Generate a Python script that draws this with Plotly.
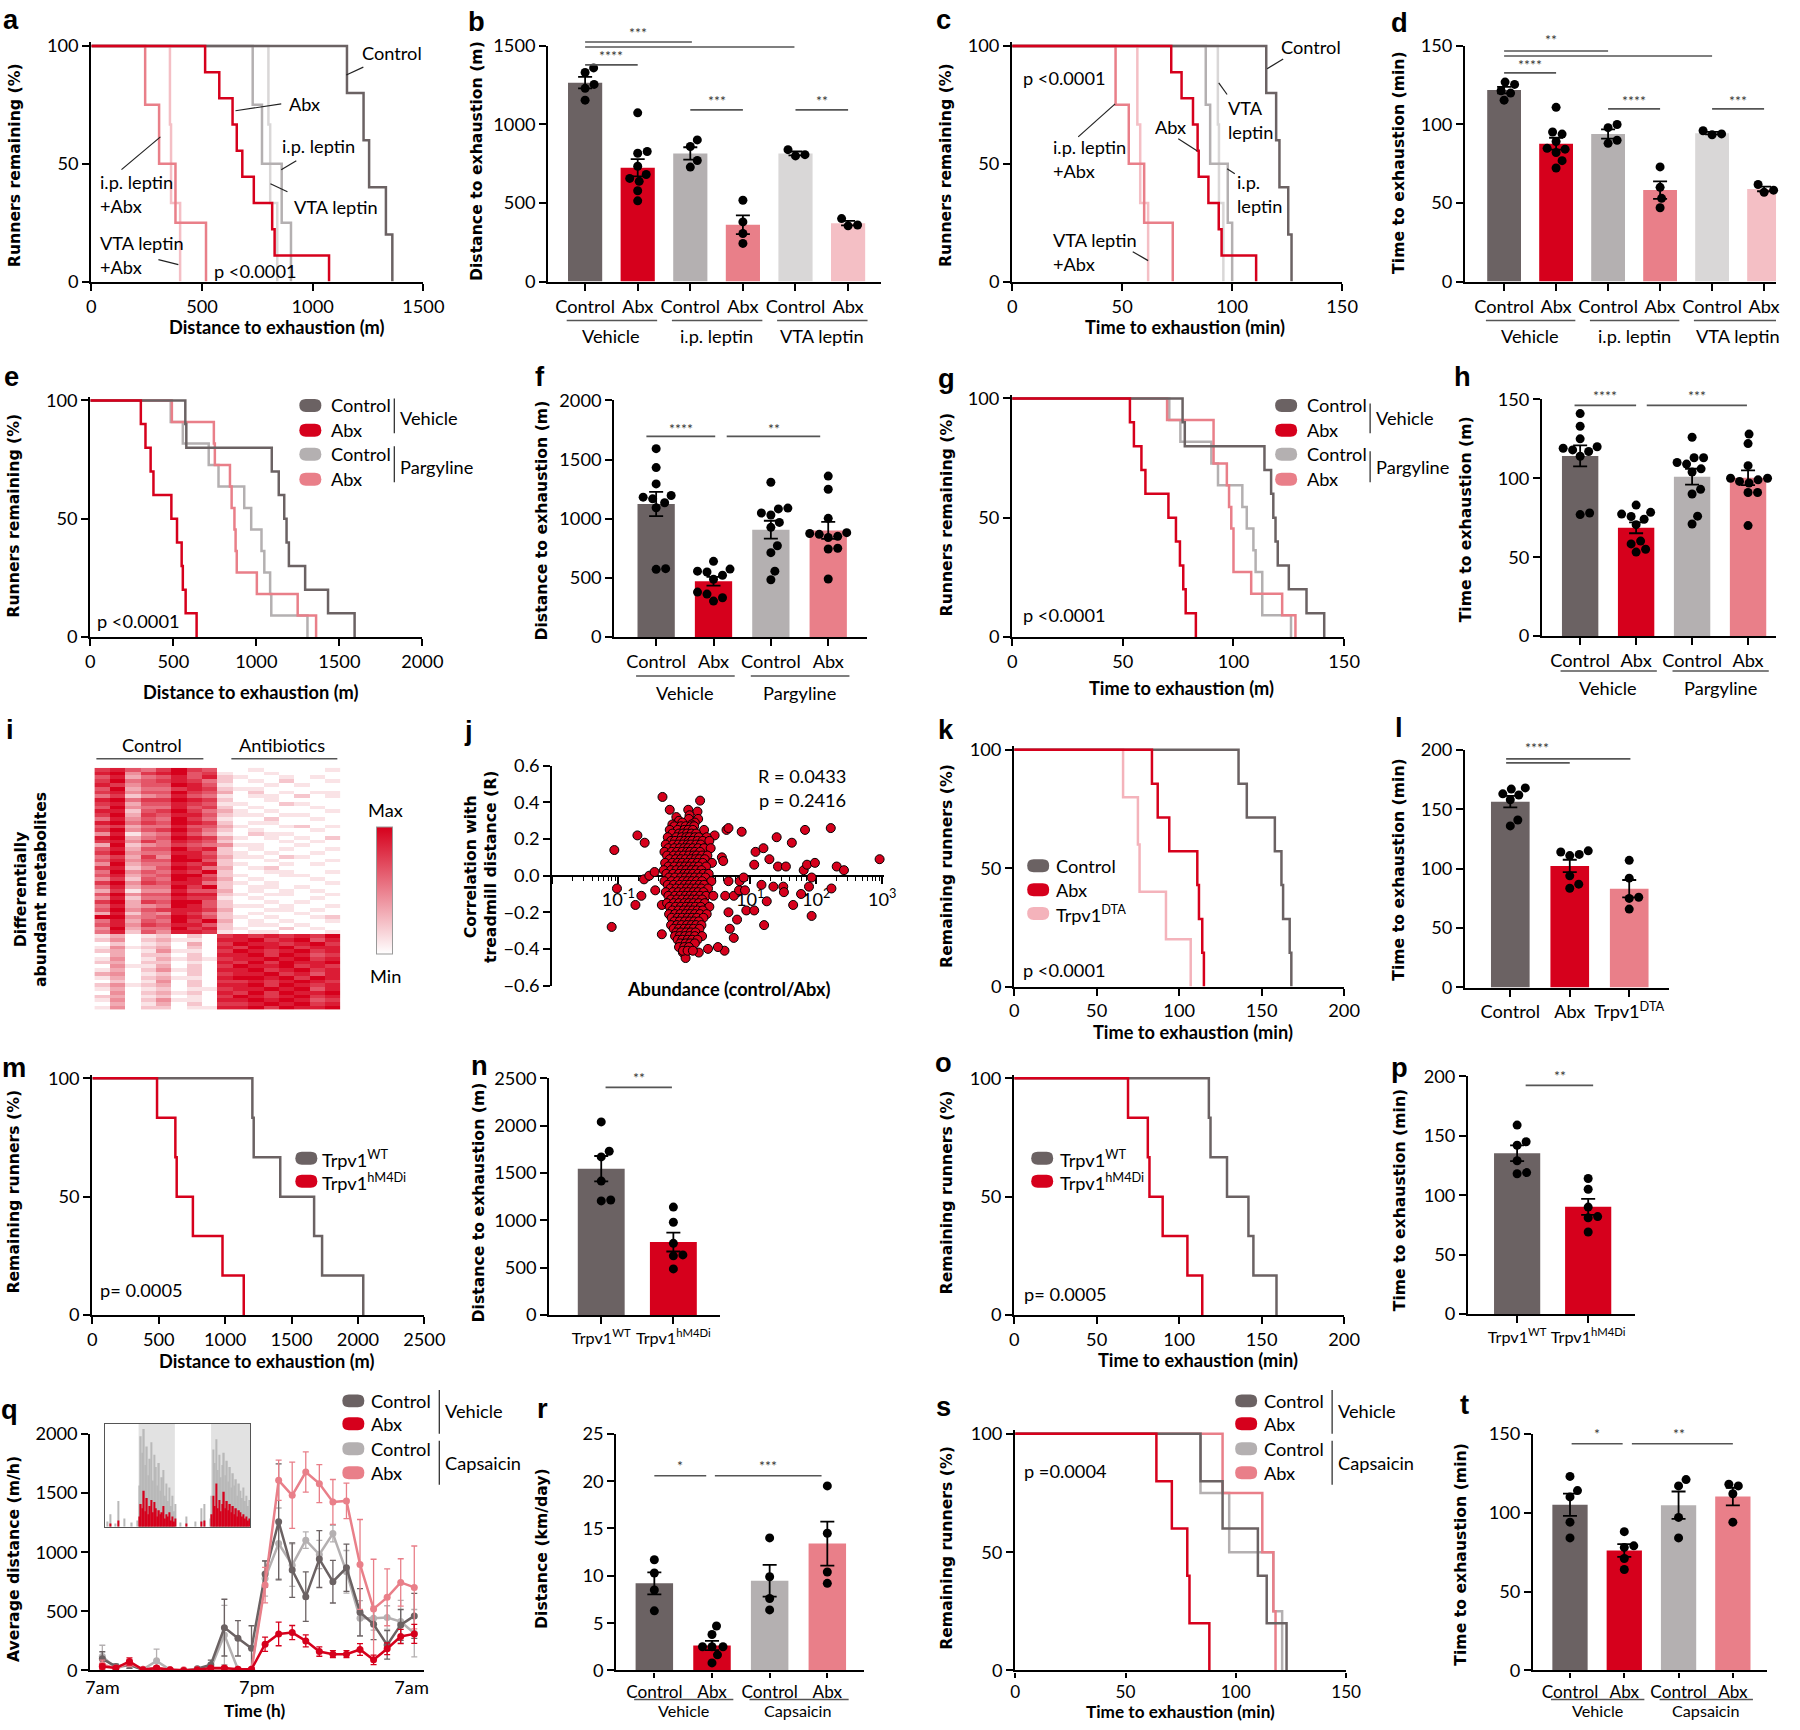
import math
import statistics
import plotly.graph_objects as go

# ---------------------------------------------------------------- data
# a / b : distance to exhaustion (m), leptin experiment
a_veh_ctrl = [1155, 1230, 1255, 1331, 1360]
a_veh_abx = [514, 578, 638, 657, 682, 734, 817, 828, 1074]
a_ip_ctrl = [729, 771, 860, 902]
a_ip_abx = [243, 306, 380, 518]
a_vta_ctrl = [800, 808, 840]
a_vta_abx = [355, 360, 401]

# c / d : time to exhaustion (min), leptin experiment
c_veh_ctrl = [115.5, 120, 121.5, 125.5, 127]
c_veh_abx = [72.3, 77, 82.2, 84.3, 84.8, 89.2, 93.9, 95.2, 110.9]
c_ip_ctrl = [88, 90, 98, 100]
c_ip_abx = [47, 53, 60, 73]
c_vta_ctrl = [93.5, 94, 96]
c_vta_abx = [56.9, 58.2, 61.8]

# e / f : distance (m), pargyline
e_veh_ctrl = [572, 578, 1093, 1135, 1168, 1182, 1196, 1294, 1432, 1592]
e_veh_abx = [304, 332, 363, 380, 488, 522, 550, 557, 574, 640]
e_par_ctrl = [484, 557, 713, 772, 927, 969, 1031, 1048, 1083, 1090, 1308]
e_par_abx = [491, 744, 750, 841, 851, 868, 875, 882, 1003, 1249, 1360]

# g / h : time (m), pargyline
g_veh_ctrl = [77, 78, 114, 117, 118, 119, 120, 125, 133, 141]
g_veh_abx = [53.2, 55, 58.4, 60.2, 70.6, 74, 75.8, 77.3, 78.4, 83]
g_par_ctrl = [71, 76, 90, 93, 104, 106, 109, 110, 113, 113, 126]
g_par_abx = [70, 91, 91, 97, 98, 99, 100, 100, 108, 122, 128]

# i : metabolite heatmap (rows = metabolites, 8 control + 8 antibiotics columns, 0..9)
heat_rows = [
    "7865797600100001", "8947896710010000", "6835686821001010", "7956787520102001",
    "8746698610010100", "6935578721100000", "7846697630201011", "5724586510110201",
    "8957798720010000", "7836687611002100", "6945586720100010", "8826797531010001",
    "7937688621101100", "5846597510020010", "8957698720110000", "6735586631001201",
    "7946797520100010", "4814586410211000", "8935698731010102", "7847587620001010",
    "3924576541100100", "6836697820101001", "7945588621010010", "5737498731102100",
    "6846699620010001", "4935587821001010", "7824698530120000", "5946587920011001",
    "6835699621001100", "4726598730100010", "7947688521010001", "5835597920110100",
    "3714486630101010", "6946698821011001", "4825587710100010", "7937699620010100",
    "5834598621101001", "6946788730011010", "3825487520100100", "9945698621010012",
    "5836597930101001", "6847688620110100", "4935597821002010", "5826488710110001",
    "1301202078787879", "2402311088978968", "0201203079887897", "1412302087989788",
    "2301411079878978", "0302202088979867", "1401312178898978", "2302201087979889",
    "0411302079889787", "1302412088978978", "3401202078897868", "1302311089989798",
    "0201402077878987", "2412302088979878", "1301201178898968", "0402312087979889",
    "2301201079878978", "1402411088989867", "0301302077898978", "1402201188979889",
]

# j : (log10 abundance control/Abx, correlation R)
j_points = [
    (-1.06, 0.14), (-0.71, 0.22), (-0.60, 0.18), (-1.02, -0.07), (-0.65, -0.11), (-0.74, -0.16),
    (-1.10, -0.28), (-0.61, -0.02), (-0.53, 0.00), (-0.45, 0.02), (-0.44, -0.08), (-0.34, -0.16),
    (-0.34, -0.32), (-0.02, -0.42), (0.02, -0.45), (0.22, -0.42), (0.36, -0.40), (0.61, -0.41),
    (0.51, -0.39), (0.69, -0.29), (0.75, -0.34), (0.80, -0.24), (0.67, -0.20), (0.62, -0.11),
    (0.75, -0.11), (0.83, -0.08), (0.92, -0.08), (0.84, -0.03), (0.90, -0.01), (0.67, -0.03),
    (0.64, 0.25), (0.67, 0.26), (0.87, 0.24), (0.46, 0.22), (1.08, 0.13), (1.20, 0.15),
    (1.29, 0.09), (1.40, 0.21), (1.63, 0.18), (1.83, 0.25), (2.22, 0.26), (1.06, 0.06),
    (1.42, 0.05), (1.54, 0.05), (1.81, 0.03), (1.86, 0.06), (1.98, 0.07), (2.31, 0.05),
    (2.42, 0.03), (2.96, 0.09), (1.93, -0.01), (1.17, -0.05), (1.35, -0.06), (1.50, -0.06),
    (1.51, -0.09), (1.77, -0.10), (1.89, -0.06), (2.23, -0.07), (1.25, -0.14), (1.65, -0.16),
    (0.94, -0.19), (1.06, -0.19), (1.21, -0.27), (1.93, -0.22), (0.57, 0.10), (0.59, 0.08),
    # main cloud
    (-0.33, 0.43), (0.24, 0.41), (-0.22, 0.36), (0.06, 0.36), (0.20, 0.35), (0.08, 0.33),
    (-0.12, 0.32), (0.07, 0.31), (0.21, 0.31), (-0.08, 0.30), (-0.03, 0.29), (0.16, 0.29),
    (-0.18, 0.28), (0.11, 0.28),
    (-0.15, 0.27), (-0.05, 0.27), (0.02, 0.27), (0.10, 0.27), (0.15, 0.27),
    (-0.22, 0.25), (-0.10, 0.25), (0.00, 0.25), (0.06, 0.25), (0.13, 0.25), (0.30, 0.25),
    (-0.18, 0.23), (-0.08, 0.23), (-0.02, 0.23), (0.04, 0.23), (0.11, 0.23), (0.18, 0.23),
    (-0.25, 0.21), (-0.12, 0.21), (-0.04, 0.21), (0.03, 0.21), (0.08, 0.21), (0.16, 0.21), (0.22, 0.21), (0.34, 0.21),
    (-0.20, 0.19), (-0.14, 0.19), (-0.06, 0.19), (0.01, 0.19), (0.07, 0.19), (0.12, 0.19), (0.20, 0.19), (0.28, 0.19), (0.38, 0.19),
    (-0.28, 0.17), (-0.17, 0.17), (-0.09, 0.17), (-0.02, 0.17), (0.05, 0.17), (0.10, 0.17), (0.18, 0.17), (0.25, 0.17),
    (-0.24, 0.15), (-0.15, 0.15), (-0.07, 0.15), (0.00, 0.15), (0.06, 0.15), (0.13, 0.15), (0.21, 0.15), (0.30, 0.15), (0.40, 0.15),
    (-0.30, 0.13), (-0.19, 0.13), (-0.11, 0.13), (-0.03, 0.13), (0.04, 0.13), (0.09, 0.13), (0.16, 0.13), (0.24, 0.13),
    (-0.26, 0.11), (-0.16, 0.11), (-0.08, 0.11), (-0.01, 0.11), (0.07, 0.11), (0.14, 0.11), (0.19, 0.11), (0.27, 0.11), (0.35, 0.11),
    (-0.22, 0.09), (-0.13, 0.09), (-0.05, 0.09), (0.02, 0.09), (0.10, 0.09), (0.17, 0.09), (0.23, 0.09), (0.31, 0.09),
    (-0.29, 0.07), (-0.18, 0.07), (-0.10, 0.07), (-0.03, 0.07), (0.05, 0.07), (0.12, 0.07), (0.20, 0.07), (0.28, 0.07), (0.42, 0.07),
    (-0.24, 0.05), (-0.15, 0.05), (-0.06, 0.05), (0.01, 0.05), (0.08, 0.05), (0.15, 0.05), (0.22, 0.05), (0.33, 0.05),
    (-0.31, 0.03), (-0.20, 0.03), (-0.12, 0.03), (-0.04, 0.03), (0.03, 0.03), (0.11, 0.03), (0.18, 0.03), (0.26, 0.03),
    (-0.27, 0.01), (-0.17, 0.01), (-0.08, 0.01), (0.00, 0.01), (0.06, 0.01), (0.13, 0.01), (0.21, 0.01), (0.29, 0.01), (0.37, 0.01),
    (-0.23, -0.01), (-0.14, -0.01), (-0.05, -0.01), (0.02, -0.01), (0.09, -0.01), (0.16, -0.01), (0.24, -0.01), (0.32, -0.01),
    (-0.30, -0.03), (-0.19, -0.03), (-0.10, -0.03), (-0.02, -0.03), (0.05, -0.03), (0.12, -0.03), (0.19, -0.03), (0.27, -0.03), (0.41, -0.03),
    (-0.25, -0.05), (-0.16, -0.05), (-0.07, -0.05), (0.01, -0.05), (0.08, -0.05), (0.15, -0.05), (0.23, -0.05), (0.30, -0.05),
    (-0.21, -0.07), (-0.12, -0.07), (-0.04, -0.07), (0.04, -0.07), (0.11, -0.07), (0.18, -0.07), (0.26, -0.07), (0.36, -0.07),
    (-0.28, -0.09), (-0.17, -0.09), (-0.09, -0.09), (-0.01, -0.09), (0.06, -0.09), (0.14, -0.09), (0.21, -0.09), (0.29, -0.09),
    (-0.24, -0.11), (-0.14, -0.11), (-0.06, -0.11), (0.02, -0.11), (0.09, -0.11), (0.16, -0.11), (0.24, -0.11), (0.33, -0.11), (0.44, -0.11),
    (-0.20, -0.13), (-0.11, -0.13), (-0.03, -0.13), (0.05, -0.13), (0.12, -0.13), (0.19, -0.13), (0.27, -0.13),
    (-0.26, -0.15), (-0.16, -0.15), (-0.08, -0.15), (0.00, -0.15), (0.07, -0.15), (0.14, -0.15), (0.22, -0.15), (0.31, -0.15),
    (-0.22, -0.17), (-0.13, -0.17), (-0.05, -0.17), (0.03, -0.17), (0.10, -0.17), (0.17, -0.17), (0.25, -0.17), (0.38, -0.17),
    (-0.18, -0.19), (-0.09, -0.19), (-0.01, -0.19), (0.06, -0.19), (0.13, -0.19), (0.20, -0.19), (0.28, -0.19),
    (-0.23, -0.21), (-0.14, -0.21), (-0.06, -0.21), (0.02, -0.21), (0.09, -0.21), (0.16, -0.21), (0.24, -0.21), (0.34, -0.21),
    (-0.19, -0.23), (-0.10, -0.23), (-0.03, -0.23), (0.05, -0.23), (0.12, -0.23), (0.19, -0.23), (0.29, -0.23),
    (-0.15, -0.25), (-0.07, -0.25), (0.01, -0.25), (0.08, -0.25), (0.15, -0.25), (0.22, -0.25),
    (-0.20, -0.27), (-0.11, -0.27), (-0.04, -0.27), (0.04, -0.27), (0.11, -0.27), (0.18, -0.27), (0.26, -0.27),
    (-0.16, -0.29), (-0.08, -0.29), (0.00, -0.29), (0.07, -0.29), (0.14, -0.29), (0.23, -0.29),
    (-0.12, -0.31), (-0.05, -0.31), (0.03, -0.31), (0.10, -0.31), (0.17, -0.31),
    (-0.14, -0.33), (-0.07, -0.33), (0.01, -0.33), (0.08, -0.33), (0.16, -0.33), (0.27, -0.33),
    (-0.10, -0.35), (-0.03, -0.35), (0.05, -0.35), (0.12, -0.35), (0.20, -0.35),
    (-0.06, -0.37), (0.02, -0.37), (0.09, -0.37), (0.16, -0.37),
    (-0.08, -0.39), (0.00, -0.39), (0.07, -0.39),
    (-0.02, -0.41), (0.05, -0.41), (0.13, -0.41),
]

# k / l : time (min), Trpv1-DTA
k_ctrl = [136, 141, 158, 162, 163, 167, 168]
k_abx = [83.5, 87, 94, 111, 112, 114, 115]
k_dta = [66, 75, 76, 92, 107]

# m / n : distance (m), chemogenetic inhibition
m_wt = [1205, 1215, 1415, 1670, 1730, 2040]
m_hm4di = [487, 625, 635, 757, 980, 1140]

# o / p : time (min)
o_wt = [118, 119, 129, 142, 145, 159]
o_hm4di = [69, 81, 82, 90, 105, 114]

# q : voluntary wheel running, hourly means (m/h) and SEM
q_hour = [0, 1, 2, 3, 4, 5, 6, 7, 8, 9, 10, 11, 12, 13, 14, 15, 16, 17, 18, 19, 20, 21, 22, 23]
q_veh_ctrl = [98, 34, 48, 5, 10, 0, 0, 14, 48, 362, 272, 188, 815, 1256, 848, 624, 941, 750, 868, 492, 390, 216, 385, 461]
q_veh_ctrl_err = [60, 20, 30, 5, 10, 0, 0, 10, 40, 240, 150, 190, 110, 490, 230, 210, 240, 180, 200, 200, 130, 120, 130, 190]
q_veh_abx = [34, 20, 76, 5, 20, 5, 0, 5, 20, 20, 10, 10, 222, 309, 320, 250, 160, 138, 138, 177, 90, 183, 287, 309]
q_veh_abx_err = [20, 15, 30, 5, 15, 5, 0, 5, 15, 15, 10, 10, 60, 100, 60, 50, 40, 30, 30, 50, 40, 50, 60, 80]
q_cap_ctrl = [118, 20, 48, 10, 81, 5, 0, 0, 20, 300, 10, 10, 778, 1073, 890, 1101, 980, 1157, 834, 441, 441, 447, 413, 315]
q_cap_ctrl_err = [95, 15, 30, 10, 100, 5, 0, 0, 15, 250, 10, 10, 150, 300, 180, 70, 120, 70, 180, 150, 100, 100, 180, 200]
q_cap_abx = [48, 20, 62, 10, 20, 5, 5, 5, 10, 10, 10, 10, 722, 1607, 1480, 1677, 1579, 1424, 1433, 896, 520, 618, 744, 702]
q_cap_abx_err = [40, 15, 30, 10, 15, 5, 5, 5, 10, 10, 10, 10, 150, 170, 280, 170, 160, 190, 150, 380, 420, 240, 200, 350]

# q inset: 48 h of running in half-hour bins (% of inset height), dark phases
inset_gray = [0, 5, 0, 12, 0, 0, 3, 0, 25, 0, 0, 0, 8, 0, 0, 0, 0, 4, 0, 0, 0, 6,
              40, 88, 72, 95, 60, 78, 50, 66, 82, 45, 70, 58, 40, 62, 35, 48, 55, 30, 42, 25, 38, 20, 30, 15, 22,
              0, 0, 4, 0, 0, 0, 10, 0, 0, 0, 0, 0, 5, 0, 0, 0, 18, 0, 22, 0, 0, 0, 8,
              30, 75, 62, 85, 55, 70, 48, 60, 72, 50, 64, 44, 58, 38, 52, 40, 46, 30, 42, 35, 28, 38, 25, 30, 20, 26]
inset_red = [0, 0, 0, 3, 0, 0, 0, 0, 6, 0, 0, 0, 0, 0, 0, 0, 0, 0, 0, 0, 0, 0,
             10, 22, 18, 35, 15, 28, 12, 20, 26, 14, 24, 18, 10, 16, 12, 14, 20, 8, 12, 10, 14, 6, 10, 5, 8,
             0, 0, 0, 0, 0, 0, 3, 0, 0, 0, 0, 0, 0, 0, 0, 0, 5, 0, 6, 0, 0, 0, 0,
             12, 30, 20, 42, 18, 26, 15, 22, 34, 18, 25, 16, 22, 14, 20, 12, 18, 10, 16, 14, 10, 12, 8, 10, 6, 8]
inset_dark_start = [11, 35]
inset_dark_end = [23, 48]

# r : wheel distance (km/day)
r_veh_ctrl = [6.3, 8.5, 10.3, 11.7]
r_veh_abx = [0.8, 1.65, 2.5, 2.5, 2.5, 3.8, 4.7]
r_cap_ctrl = [6.4, 7.6, 9.9, 14.0]
r_cap_abx = [9.2, 10.4, 14.5, 19.5]

# s / t : time (min), capsaicin
s_veh_ctrl = [84, 94, 110, 114, 123]
s_veh_abx = [64, 71, 78, 79, 88]
s_cap_ctrl = [84, 97, 117, 121]
s_cap_abx = [94, 112, 117, 118]

# ---------------------------------------------------------------- style
W, H = 1800, 1730
# the photographed page lands slightly shrunk and shifted; positions below are in
# picture pixels and get mapped back to figure pixels here
SX, OX, SY, OY = 0.9852, 4.6, 0.9888, 8.0
FONT = "Lato, 'Liberation Sans', Arial, sans-serif"
YFONT = "'DejaVu Sans', Verdana, sans-serif"
LFONT = "'Liberation Sans', Arial, sans-serif"

DG, RED, LG, PINK = "#6b6263", "#d6001c", "#b4b0b1", "#e97f89"
VLG, VLP, DTA = "#d9d7d7", "#f4bfc5", "#f4b3bb"
YMAX = 101.5
FS = 1.012

fig = go.Figure()
anns, shapes = [], []
n_axes = [0]

AXIS = dict(showline=True, linecolor="black", linewidth=2.2, ticks="outside", ticklen=7,
            tickwidth=2, tickcolor="black", showgrid=False, zeroline=False, tickangle=0,
            tickfont=dict(family=FONT, size=18 * FS, color="black"), fixedrange=True)
BOTTOM = dict(ticklen=5, tickfont=dict(family=FONT, size=17 * FS, color="black"))


def fx(p):
    return min(1.0, max(0.0, (p - OX) / SX / W))


def fy(p):
    return min(1.0, max(0.0, 1 - (p - OY) / SY / H))


def axes(x0, x1, ytop, ybot, xr, yr, xkw=None, ykw=None):
    n_axes[0] += 1
    s = "" if n_axes[0] == 1 else str(n_axes[0])
    xa = dict(AXIS, domain=[fx(x0), fx(x1)], range=xr, anchor="y" + s)
    ya = dict(AXIS, domain=[fy(ybot), fy(ytop)], range=yr, anchor="x" + s)
    xa.update(xkw or {})
    ya.update(ykw or {})
    fig.update_layout({"xaxis" + s: xa, "yaxis" + s: ya})
    return "x" + s, "y" + s


def text(x, y, s, size=18, xref="paper", yref="paper", xanchor="center", angle=0,
         family=FONT, color="black", align="center"):
    anns.append(dict(x=x, y=y, xref=xref, yref=yref, text=s, showarrow=False, xanchor=xanchor,
                     yanchor="middle", textangle=angle, align=align,
                     font=dict(family=family, size=size * FS, color=color)))


def ptext(px, py, s, **kw):
    text(fx(px), fy(py), s, **kw)


def line(x0, y0, x1, y1, xref="paper", yref="paper", color="black", width=1.5):
    shapes.append(dict(type="line", xref=xref, yref=yref, x0=x0, y0=y0, x1=x1, y1=y1,
                       line=dict(color=color, width=width)))


def ytitle(px, py, s):
    ptext(px, py, "<b>" + s + "</b>", size=15.5, family=YFONT, angle=-90)


def xtitle(px, py, s, size=18):
    ptext(px, py, "<b>" + s + "</b>", size=size)


def pill(cx, cy, color, w=22, h=13):
    r = h / 2
    pts = [(cx - w / 2 + r, cy - h / 2), (cx + w / 2 - r, cy - h / 2), (cx + w / 2, cy - h / 2),
           (cx + w / 2, cy), (cx + w / 2, cy + h / 2), (cx + w / 2 - r, cy + h / 2),
           (cx - w / 2 + r, cy + h / 2), (cx - w / 2, cy + h / 2), (cx - w / 2, cy),
           (cx - w / 2, cy - h / 2), (cx - w / 2 + r, cy - h / 2)]
    p = [(fx(a), fy(b)) for a, b in pts]
    path = ("M{0[0]},{0[1]} L{1[0]},{1[1]} Q{2[0]},{2[1]} {3[0]},{3[1]} Q{4[0]},{4[1]} {5[0]},{5[1]} "
            "L{6[0]},{6[1]} Q{7[0]},{7[1]} {8[0]},{8[1]} Q{9[0]},{9[1]} {10[0]},{10[1]} Z").format(*p)
    shapes.append(dict(type="path", xref="paper", yref="paper", path=path, fillcolor=color,
                       line=dict(width=0)))


def legend(cx, tx, ys, labels, colors):
    for y, lab, col in zip(ys, labels, colors):
        pill(cx, y, col)
        ptext(tx, y, lab, xanchor="left")


def legend_group(lx, y0, y1, label, ty):
    line(fx(lx), fy(y0), fx(lx), fy(y1), color="#333", width=1.3)
    ptext(lx + 4, ty, label, xanchor="left")


def km_xy(times):
    ts = sorted(times)
    n = len(ts)
    return [0] + ts, [100] + [100 * (n - i - 1) / n for i in range(n)]


def km(box, xr, dtick, series, xextra=None):
    x0, x1, y100, y0 = box
    top = y100 - (YMAX - 100) / 100 * (y0 - y100)
    xkw = dict(tick0=0, dtick=dtick)
    xkw.update(xextra or {})
    xa, ya = axes(x0, x1, top, y0, xr, [0, YMAX], xkw, dict(tickvals=[0, 50, 100]))
    for times, col in series:
        xs, ys = km_xy(times)
        fig.add_trace(go.Scatter(x=xs, y=ys, mode="lines", line=dict(color=col, width=2.5, shape="hv"),
                                 xaxis=xa, yaxis=ya, hoverinfo="skip"))
    return xa, ya


def swarm(vals, ppy, ppx, d):
    order = sorted(range(len(vals)), key=lambda i: vals[i])
    placed, offs = [], [0.0] * len(vals)
    for i in order:
        y = vals[i] * ppy
        best = None
        k = 0
        while best is None:
            for c in ([0.0] if k == 0 else [k * 0.5, -k * 0.5]):
                if all((c - px) ** 2 + (y - py) ** 2 >= d * d for py, px in placed):
                    best = c
                    break
            k += 1
        placed.append((y, best))
        offs[i] = best / ppx
    return offs


def bars(box, xr, yr, dtick, groups, colors, labels, dot=9, tick_size=18, xextra=None):
    x0, x1, ytop, ybot = box
    n = len(groups)
    xkw = dict(tickvals=list(range(n)), ticktext=labels,
               tickfont=dict(family=FONT, size=tick_size * FS, color="black"))
    xkw.update(xextra or {})
    xa, ya = axes(x0, x1, ytop, ybot, xr, yr, xkw, dict(tick0=0, dtick=dtick))
    means = [statistics.mean(g) for g in groups]
    sems = [statistics.stdev(g) / math.sqrt(len(g)) for g in groups]
    fig.add_trace(go.Bar(x=list(range(n)), y=means, width=0.65, marker=dict(color=colors, line=dict(width=0)),
                         error_y=dict(type="data", array=sems, color="black", thickness=1.8, width=7),
                         xaxis=xa, yaxis=ya, hoverinfo="skip"))
    ppx = (x1 - x0) / (xr[1] - xr[0])
    ppy = (ybot - ytop) / (yr[1] - yr[0])
    xs, ys = [], []
    for i, g in enumerate(groups):
        offs = swarm(g, ppy, ppx, dot + 0.5)
        xs += [i + o for o in offs]
        ys += list(g)
    fig.add_trace(go.Scatter(x=xs, y=ys, mode="markers", marker=dict(color="black", size=dot),
                             xaxis=xa, yaxis=ya, cliponaxis=False, hoverinfo="skip"))
    return xa, ya


def sig(xa, x0, x1, ly, label, tx, ty):
    line(x0, fy(ly), x1, fy(ly), xref=xa, color="#555", width=1.6)
    text(tx, fy(ty), label, xref=xa, size=14, color="#333")


def group(xa, i0, i1, ly, label, ty, size=18):
    line(i0 - 0.35, fy(ly), i1 + 0.37, fy(ly), xref=xa, color="#555", width=1.5)
    text((i0 + i1) / 2, fy(ty), label, xref=xa, size=size)


def leader(xa, ya, x0, y0, x1, y1):
    line(x0, y0, x1, y1, xref=xa, yref=ya, color="#222", width=1.2)


def dtext(xa, ya, x, y, s):
    text(x, y, s, xref=xa, yref=ya, xanchor="left", align="left")


# ---------------------------------------------------------------- a
xa, ya = km((91, 423, 42, 278), [0, 1500], 500,
            [(a_vta_ctrl, VLG), (a_ip_ctrl, LG), (a_vta_abx, VLP), (a_ip_abx, PINK),
             (a_veh_ctrl, DG), (a_veh_abx, RED)])
dtext(xa, ya, 1215, 97, "Control")
leader(xa, ya, 1152, 87.7, 1229, 91)
dtext(xa, ya, 886, 75.4, "Abx")
leader(xa, ya, 651, 72.5, 858, 75.4)
dtext(xa, ya, 854, 57.6, "i.p. leptin")
leader(xa, ya, 858, 47.5, 926, 51.3)
dtext(xa, ya, 907, 31.8, "VTA leptin")
leader(xa, ya, 809, 41.5, 886, 38.1)
dtext(xa, ya, 32, 37.3, "i.p. leptin<br>+Abx")
leader(xa, ya, 136, 47.5, 312, 61.4)
dtext(xa, ya, 32, 11.2, "VTA leptin<br>+Abx")
leader(xa, ya, 303, 9.3, 393, 7.2)
dtext(xa, ya, 547, 4.7, "p <0.0001")
xtitle(277, 323, "Distance to exhaustion (m)")
ytitle(14, 161, "Runners remaining (%)")

# ---------------------------------------------------------------- b
LBL6 = ["Control", "Abx", "Control", "Abx", "Control", "Abx"]
xa, ya = bars((548, 881, 42, 278), [-0.70, 5.63], [0, 1500], 500,
              [a_veh_ctrl, a_veh_abx, a_ip_ctrl, a_ip_abx, a_vta_ctrl, a_vta_abx],
              [DG, RED, LG, PINK, VLG, VLP], LBL6)
line(0, fy(38), 2.03, fy(38), xref=xa, color="#555", width=1.6)
sig(xa, 0, 3.98, 43, "***", 1.0, 29)
sig(xa, 0, 1, 61, "****", 0.5, 52)
sig(xa, 2, 3, 106, "***", 2.5, 97)
sig(xa, 4, 5, 106, "**", 4.5, 97)
group(xa, 0, 1, 317, "Vehicle", 332)
group(xa, 2, 3, 317, "i.p. leptin", 332)
group(xa, 4, 5, 317, "VTA leptin", 332)
ytitle(476, 157, "Distance to exhaustion (m)")

# ---------------------------------------------------------------- c
xa, ya = km((1012, 1342, 42, 278), [0, 150], 50,
            [(c_vta_ctrl, VLG), (c_ip_ctrl, LG), (c_vta_abx, VLP), (c_ip_abx, PINK),
             (c_veh_ctrl, DG), (c_veh_abx, RED)])
dtext(xa, ya, 121.4, 99.6, "Control")
leader(xa, ya, 115.9, 90.3, 123.2, 94.5)
dtext(xa, ya, 3.9, 86.4, "p <0.0001")
dtext(xa, ya, 97, 68.4, "VTA<br>leptin")
leader(xa, ya, 93.9, 84.3, 97.7, 79.4)
dtext(xa, ya, 63.9, 65.7, "Abx")
leader(xa, ya, 75.5, 60.6, 84, 55.5)
dtext(xa, ya, 101.2, 37.3, "i.p.<br>leptin")
leader(xa, ya, 97.7, 47.9, 101.2, 45.8)
dtext(xa, ya, 17.7, 52.1, "i.p. leptin<br>+Abx")
leader(xa, ya, 30, 61.4, 46.8, 75.4)
dtext(xa, ya, 17.7, 12.7, "VTA leptin<br>+Abx")
leader(xa, ya, 54.8, 12.7, 61.8, 8.9)
xtitle(1185, 323, "Time to exhaustion (min)")
ytitle(946, 161, "Runners remaining (%)")

# ---------------------------------------------------------------- d
xa, ya = bars((1465, 1776, 42, 278), [-0.75, 5.23], [0, 150], 50,
              [c_veh_ctrl, c_veh_abx, c_ip_ctrl, c_ip_abx, c_vta_ctrl, c_vta_abx],
              [DG, RED, LG, PINK, VLG, VLP], LBL6)
line(0, fy(47), 2, fy(47), xref=xa, color="#555", width=1.6)
sig(xa, 0, 4, 52, "**", 0.9, 36)
sig(xa, 0, 1, 69, "****", 0.5, 61)
sig(xa, 2, 3, 105, "****", 2.5, 97)
sig(xa, 4, 5, 105, "***", 4.5, 97)
group(xa, 0, 1, 317, "Vehicle", 332)
group(xa, 2, 3, 317, "i.p. leptin", 332)
group(xa, 4, 5, 317, "VTA leptin", 332)
ytitle(1399, 159, "Time to exhaustion (min)")

# ---------------------------------------------------------------- e
xa, ya = km((90, 422, 397, 634), [0, 2000], 500,
            [(e_par_ctrl, LG), (e_par_abx, PINK), (e_veh_ctrl, DG), (e_veh_abx, RED)])
dtext(xa, ya, 30, 6.8, "p <0.0001")
legend(310, 329, [402, 427, 451, 476], ["Control", "Abx", "Control", "Abx"], [DG, RED, LG, PINK])
legend_group(394, 395, 430, "Vehicle", 415)
legend_group(394, 443, 479, "Pargyline", 464)
xtitle(251, 689, "Distance to exhaustion (m)")
ytitle(13, 512, "Runners remaining (%)")

# ---------------------------------------------------------------- f
LBL4 = ["Control", "Abx", "Control", "Abx"]
xa, ya = bars((614, 867, 397, 634), [-0.73, 3.68], [0, 2000], 500,
              [e_veh_ctrl, e_veh_abx, e_par_ctrl, e_par_abx], [DG, RED, LG, PINK], LBL4)
sig(xa, -0.17, 1.03, 433, "****", 0.43, 425)
sig(xa, 1.23, 2.86, 433, "**", 2.05, 425)
group(xa, 0, 1, 673, "Vehicle", 690)
group(xa, 2, 3, 673, "Pargyline", 690)
ytitle(541, 517, "Distance to exhaustion (m)")

# ---------------------------------------------------------------- g
xa, ya = km((1012, 1344, 395, 634), [0, 150], 50,
            [(g_par_ctrl, LG), (g_par_abx, PINK), (g_veh_ctrl, DG), (g_veh_abx, RED)])
dtext(xa, ya, 3.8, 9.2, "p <0.0001")
legend(1286, 1305, [402, 427, 451, 476], ["Control", "Abx", "Control", "Abx"], [DG, RED, LG, PINK])
legend_group(1370, 400, 430, "Vehicle", 415)
legend_group(1370, 448, 479, "Pargyline", 464)
xtitle(1181, 685, "Time to exhaustion (m)")
ytitle(946, 511, "Runners remaining (%)")

# ---------------------------------------------------------------- h
xa, ya = bars((1542, 1776, 396, 633), [-0.68, 3.5], [0, 150], 50,
              [g_veh_ctrl, g_veh_abx, g_par_ctrl, g_par_abx], [DG, RED, LG, PINK], LBL4)
sig(xa, -0.1, 1.0, 402, "****", 0.45, 392)
sig(xa, 1.19, 2.98, 402, "***", 2.08, 392)
group(xa, 0, 1, 668, "Vehicle", 685)
group(xa, 2, 3, 668, "Pargyline", 685)
ytitle(1465, 516, "Time to exhaustion (m)")

# ---------------------------------------------------------------- i
z = [[int(ch) for ch in row] for row in heat_rows]
hide = dict(showline=False, ticks="", showticklabels=False)
xa, ya = axes(94, 340, 765, 1007, [-0.5, 15.5], [len(z) - 0.5, -0.5], hide, hide)
fig.add_trace(go.Heatmap(z=z, xaxis=xa, yaxis=ya, zmin=0, zmax=9,
                         colorscale=[[0, "#ffffff"], [1, RED]], hoverinfo="skip",
                         colorbar=dict(x=fx(385), xanchor="center", y=fy(888), yanchor="middle",
                                       len=127, lenmode="pixels", thickness=16, thicknessmode="pixels",
                                       outlinecolor="#999", outlinewidth=1, showticklabels=False,
                                       ticks="", xpad=0, ypad=0)))
ptext(152, 742, "Control")
line(fx(96), fy(756), fx(203), fy(756), color="#555", width=1.5)
ptext(282, 742, "Antibiotics")
line(fx(231), fy(756), fx(337), fy(756), color="#555", width=1.5)
ptext(385, 807, "Max")
ptext(385, 973, "Min")
ytitle(30, 887, "Differentially<br>abundant metabolites")

# ---------------------------------------------------------------- j
minor_vals = [m * 10 ** e for e in range(-2, 3) for m in range(2, 10)]
xa, ya = axes(552, 884, 763, 983, [-2, 3.03], [-0.6, 0.6],
              dict(type="log", anchor="free", position=fy(873), layer="below traces",
                   tickvals=[0.01, 0.1, 1, 10, 100, 1000],
                   ticktext=["", "10<sup>-1</sup>", "", "10<sup>1</sup>", "10<sup>2</sup>", "10<sup>3</sup>"],
                   minor=dict(tickmode="array", tickvals=minor_vals, ticks="outside", ticklen=4,
                              tickwidth=1.2, tickcolor="black")),
              dict(tick0=0, dtick=0.2, tickformat=".1f"))
fig.add_trace(go.Scatter(x=[10 ** p[0] for p in j_points], y=[p[1] for p in j_points], mode="markers",
                         marker=dict(color=RED, size=9, line=dict(color="black", width=1)),
                         xaxis=xa, yaxis=ya, cliponaxis=False, hoverinfo="skip"))
ptext(802, 773, "R = 0.0433")
ptext(802, 797, "p = 0.2416")
xtitle(729, 987, "Abundance (control/Abx)")
ytitle(480, 864, "Correlation with<br>treadmill distance (R)")

# ---------------------------------------------------------------- k
xa, ya = km((1014, 1344, 747, 984), [0, 200], 50, [(k_dta, DTA), (k_ctrl, DG), (k_abx, RED)])
dtext(xa, ya, 3.9, 6.8, "p <0.0001")
legend(1038, 1054, [863, 887, 911], ["Control", "Abx", "Trpv1<sup>DTA</sup>"], [DG, RED, DTA])
xtitle(1193, 1030, "Time to exhaustion (min)")
ytitle(946, 863, "Remaining runners (%)")

# ---------------------------------------------------------------- l
xa, ya = bars((1465, 1669, 747, 985), [-0.76, 2.67], [0, 200], 50,
              [k_ctrl, k_abx, k_dta], [DG, RED, PINK], ["Control", "Abx", "Trpv1<sup>DTA</sup>"])
line(-0.07, fy(756), 2.02, fy(756), xref=xa, color="#555", width=1.6)
sig(xa, -0.07, 1.0, 760, "****", 0.45, 745)
ytitle(1399, 867, "Time to exhaustion (min)")

# ---------------------------------------------------------------- m
xa, ya = km((92, 424, 1076, 1313), [0, 2500], 500, [(m_wt, DG), (m_hm4di, RED)])
dtext(xa, ya, 42, 10.5, "p= 0.0005")
legend(306, 320, [1156, 1179], ["Trpv1<sup>WT</sup>", "Trpv1<sup>hM4Di</sup>"], [DG, RED])
xtitle(267, 1359, "Distance to exhaustion (m)")
ytitle(13, 1189, "Remaining runners (%)")

# ---------------------------------------------------------------- n
LBLT = ["Trpv1<sup>WT</sup>", "Trpv1<sup>hM4Di</sup>"]
xa, ya = bars((549, 720, 1076, 1313), [-0.72, 1.65], [0, 2500], 500, [m_wt, m_hm4di], [DG, RED], LBLT,
              tick_size=16)
sig(xa, 0.06, 0.98, 1085, "**", 0.52, 1075)
ytitle(478, 1200, "Distance to exhaustion (m)")

# ---------------------------------------------------------------- o
xa, ya = km((1014, 1344, 1076, 1313), [0, 200], 50, [(o_wt, DG), (o_hm4di, RED)])
dtext(xa, ya, 4.7, 8.9, "p= 0.0005")
legend(1042, 1058, [1156, 1179], ["Trpv1<sup>WT</sup>", "Trpv1<sup>hM4Di</sup>"], [DG, RED])
xtitle(1198, 1358, "Time to exhaustion (min)")
ytitle(946, 1190, "Remaining runners (%)")

# ---------------------------------------------------------------- p
xa, ya = bars((1468, 1635, 1074, 1312), [-0.69, 1.66], [0, 200], 50, [o_wt, o_hm4di], [DG, RED], LBLT,
              tick_size=16)
sig(xa, 0.12, 1.07, 1083, "**", 0.6, 1073)
ytitle(1399, 1198, "Time to exhaustion (min)")

# ---------------------------------------------------------------- q
xa, ya = axes(90, 424, 1432, 1669, [-0.88, 23.74], [0, 2000],
              dict(tickvals=[0, 11.4, 22.8], ticktext=["7am", "7pm", "7am"], ticks=""),
              dict(tick0=0, dtick=500))
for vals, err, col in [(q_cap_ctrl, q_cap_ctrl_err, LG), (q_veh_ctrl, q_veh_ctrl_err, DG),
                       (q_cap_abx, q_cap_abx_err, PINK), (q_veh_abx, q_veh_abx_err, RED)]:
    fig.add_trace(go.Scatter(x=q_hour, y=vals, mode="lines+markers", line=dict(color=col, width=2.5),
                             marker=dict(color=col, size=7),
                             error_y=dict(type="data", array=err, color=col, thickness=1.3, width=3),
                             xaxis=xa, yaxis=ya, hoverinfo="skip"))
legend(353, 369, [1399, 1422, 1447, 1471], ["Control", "Abx", "Control", "Abx"], [DG, RED, LG, PINK])
legend_group(439, 1388, 1432, "Vehicle", 1409)
legend_group(439, 1439, 1483, "Capsaicin", 1461)
xtitle(254, 1709, "Time (h)", size=17)
ytitle(13, 1557, "Average distance (m/h)")

# inset
box = dict(showline=True, mirror=True, linecolor="#555", linewidth=1.2, ticks="", showticklabels=False)
xi, yi = axes(105, 250, 1422, 1525, [0, 48], [0, 100], box, box)
for a0, a1 in zip(inset_dark_start, inset_dark_end):
    shapes.append(dict(type="rect", xref=xi, yref=yi + " domain", x0=a0, x1=a1, y0=0, y1=1,
                       fillcolor="#e2e2e2", line=dict(width=0), layer="below"))
bins = [0.25 + 0.5 * i for i in range(len(inset_gray))]
fig.add_trace(go.Bar(x=bins, y=inset_gray, width=0.5, marker=dict(color="#b9b9b9", line=dict(width=0)),
                     xaxis=xi, yaxis=yi, hoverinfo="skip"))
fig.add_trace(go.Bar(x=bins, y=inset_red, width=0.5, marker=dict(color=RED, line=dict(width=0)),
                     xaxis=xi, yaxis=yi, hoverinfo="skip"))

# ---------------------------------------------------------------- r
xa, ya = bars((616, 864, 1432, 1669), [-0.66, 3.64], [0, 25], 5,
              [r_veh_ctrl, r_veh_abx, r_cap_ctrl, r_cap_abx], [DG, RED, LG, PINK], LBL4,
              tick_size=17, xextra=dict(ticklen=5))
sig(xa, 0, 0.9, 1474, "*", 0.45, 1464)
sig(xa, 1.05, 2.9, 1474, "***", 1.97, 1464)
group(xa, 0, 1, 1698, "Vehicle", 1709, size=16)
group(xa, 2, 3, 1698, "Capsaicin", 1709, size=16)
ytitle(541, 1547, "Distance (km/day)")

# ---------------------------------------------------------------- s
xa, ya = km((1015, 1346, 1432, 1669), [0, 150], 50,
            [(s_cap_ctrl, LG), (s_cap_abx, PINK), (s_veh_ctrl, DG), (s_veh_abx, RED)], xextra=BOTTOM)
dtext(xa, ya, 3, 84.4, "p =0.0004")
legend(1246, 1262, [1399, 1422, 1447, 1471], ["Control", "Abx", "Control", "Abx"], [DG, RED, LG, PINK])
legend_group(1332, 1388, 1432, "Vehicle", 1409)
legend_group(1332, 1439, 1483, "Capsaicin", 1461)
xtitle(1180, 1710, "Time to exhaustion (min)", size=17)
ytitle(946, 1546, "Remaining runners (%)")

# ---------------------------------------------------------------- t
xa, ya = bars((1533, 1767, 1432, 1669), [-0.68, 3.63], [0, 150], 50,
              [s_veh_ctrl, s_veh_abx, s_cap_ctrl, s_cap_abx], [DG, RED, LG, PINK], LBL4,
              tick_size=17, xextra=dict(ticklen=5))
sig(xa, 0.03, 0.97, 1442, "*", 0.5, 1432)
sig(xa, 1.14, 3.0, 1442, "**", 2.0, 1432)
group(xa, 0, 1, 1698, "Vehicle", 1709, size=16)
group(xa, 2, 3, 1698, "Capsaicin", 1709, size=16)
ytitle(1461, 1553, "Time to exhaustion (min)")

# ---------------------------------------------------------------- panel letters
for ch, lx, ly in [("a", 11, 16), ("b", 476, 18), ("c", 943, 16), ("d", 1399, 19),
                   ("e", 11, 373), ("f", 540, 373), ("g", 946, 375), ("h", 1462, 373),
                   ("i", 10, 727), ("j", 468, 728), ("k", 946, 727), ("l", 1399, 725),
                   ("m", 14, 1065), ("n", 479, 1063), ("o", 943, 1060), ("p", 1399, 1065),
                   ("q", 9, 1408), ("r", 542, 1407), ("s", 943, 1405), ("t", 1464, 1403)]:
    ptext(lx, ly, "<b>" + ch + "</b>", size=27, family=LFONT)

fig.update_layout(width=W, height=H, margin=dict(l=0, r=0, t=0, b=0), showlegend=False,
                  paper_bgcolor="white", plot_bgcolor="rgba(0,0,0,0)", barmode="overlay",
                  annotations=anns, shapes=shapes, font=dict(family=FONT, color="black"))
fig.write_html("out.html", config={"displayModeBar": False},
               post_script="document.body.style.margin='0px';"
                           "document.body.style.overflow='hidden';"
                           "document.documentElement.style.overflow='hidden';")
